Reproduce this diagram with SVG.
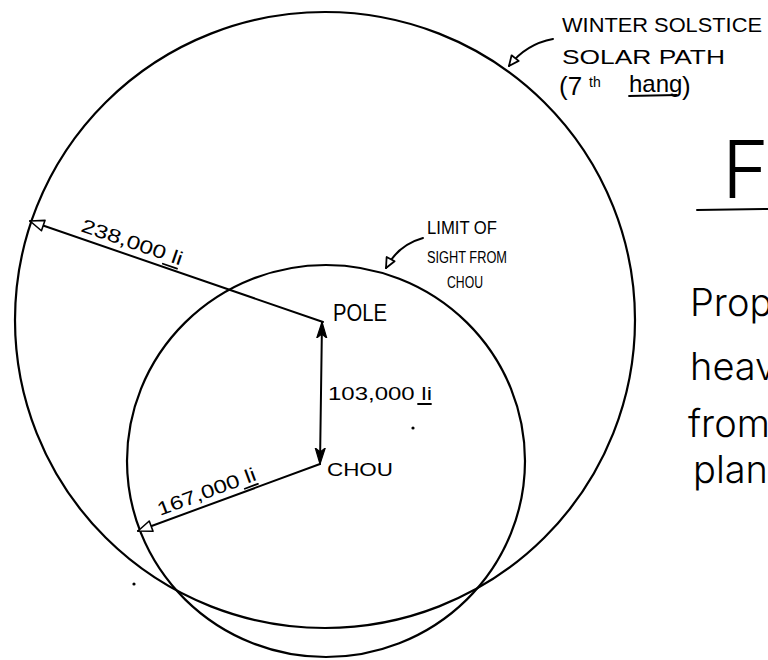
<svg xmlns="http://www.w3.org/2000/svg" width="768" height="660" viewBox="0 0 768 660">
<style>
.cir{fill:none;stroke:#000;stroke-width:2.2}
.ln{fill:none;stroke:#000;stroke-width:2;stroke-linecap:round}
.ul{fill:none;stroke:#000;stroke-width:1.8;stroke-linecap:round}
.lbl{font-family:"Liberation Sans",Arial,sans-serif;fill:#000}
.hand{font-family:Inter,"Liberation Sans",Arial,sans-serif;font-weight:300;fill:#000}
</style>
<defs>
<marker id="open" viewBox="0 -7 18 14" refX="16" refY="0" markerWidth="18" markerHeight="14" markerUnits="userSpaceOnUse" orient="auto-start-reverse">
<path d="M16,0 L2,-5.5 L2,5.5 Z" fill="#fff" stroke="#000" stroke-width="1.6" stroke-linejoin="round"/>
</marker>
<marker id="opensm" viewBox="0 -6 14 12" refX="12" refY="0" markerWidth="14" markerHeight="12" markerUnits="userSpaceOnUse" orient="auto-start-reverse">
<path d="M12,0 L2,-4.5 L2,4.5 Z" fill="#fff" stroke="#000" stroke-width="1.8" stroke-linejoin="round"/>
</marker>
<marker id="narrow" viewBox="0 -6 18 12" refX="16" refY="0" markerWidth="18" markerHeight="12" markerUnits="userSpaceOnUse" orient="auto-start-reverse">
<path d="M16,0 L0,-5 L4,0 L0,5 Z" fill="#000" stroke="#000" stroke-width="1.2" stroke-linejoin="round"/>
</marker>
</defs>

<g id="solar-path">
<ellipse class="cir" cx="325" cy="320" rx="310" ry="308"/>
</g>
<g id="limit-of-sight">
<ellipse class="cir" cx="326" cy="461" rx="199" ry="196"/>
</g>

<g id="connectors">
<path class="ln" d="M323,322 L30,221" marker-end="url(#open)"/>
<path class="ln" d="M320,464 L138,531" marker-end="url(#open)"/>
<path class="ln" d="M322,322 L320,464" marker-start="url(#narrow)" marker-end="url(#narrow)"/>
<path class="ln" d="M553,39 Q526,44 509,66" marker-end="url(#opensm)"/>
<path class="ln" d="M423,238 Q398,245 386,268" stroke-width="2.6" marker-end="url(#opensm)"/>
</g>

<g id="label-238">
<g transform="translate(80,231) rotate(19)">
<text class="lbl" font-size="19" x="0" y="0" textLength="106" lengthAdjust="spacingAndGlyphs">238,000 li</text>
<path class="ul" d="M89,4 L104,4"/>
</g>
</g>
<g id="label-167">
<g transform="translate(160,516) rotate(-20.4)">
<text class="lbl" font-size="19" x="0" y="0" textLength="104" lengthAdjust="spacingAndGlyphs">167,000 li</text>
<path class="ul" d="M89,4 L103,4"/>
</g>
</g>
<g id="label-103">
<text class="lbl" font-size="19" x="328" y="400" textLength="104" lengthAdjust="spacingAndGlyphs">103,000 li</text>
<path class="ul" d="M418,404 L431,404"/>
</g>

<g id="pole">
<text class="lbl" font-size="23" x="333" y="321" textLength="54" lengthAdjust="spacingAndGlyphs">POLE</text>
</g>
<g id="chou">
<text class="lbl" font-size="19" x="327" y="476" textLength="66" lengthAdjust="spacingAndGlyphs">CHOU</text>
</g>

<g id="winter-label">
<text class="lbl" font-size="20" x="562" y="32" textLength="200" lengthAdjust="spacingAndGlyphs">WINTER SOLSTICE</text>
<text class="lbl" font-size="20" x="562" y="64" textLength="163" lengthAdjust="spacingAndGlyphs">SOLAR  PATH</text>
<text class="lbl" font-size="26" y="95"><tspan x="559">(7</tspan><tspan x="589" y="87" font-size="14">th</tspan><tspan x="629" y="92" font-size="24">hang</tspan><tspan x="682" y="95">)</tspan></text>
<path class="ul" d="M629,96 L677,95"/>
</g>

<g id="limit-label">
<text class="lbl" font-size="18" x="427" y="234" textLength="70" lengthAdjust="spacingAndGlyphs">LIMIT OF</text>
<text class="lbl" font-size="16" x="427" y="263" textLength="80" lengthAdjust="spacingAndGlyphs">SIGHT FROM</text>
<text class="lbl" font-size="16" x="447" y="288" textLength="36" lengthAdjust="spacingAndGlyphs">CHOU</text>
</g>

<g id="title">
<text class="hand" font-size="80" font-weight="200" x="722" y="198">Fi</text>
<path class="ln" d="M697,210 L768,209"/>
</g>

<g id="caption">
<text class="hand" font-size="38" x="690" y="316">Prop</text>
<text class="hand" font-size="38" x="690" y="380">heav</text>
<text class="hand" font-size="38" x="688" y="437">from</text>
<text class="hand" font-size="38" x="693" y="483">plan</text>
</g>

<g id="dots">
<circle cx="413" cy="428" r="1.6" fill="#000"/>
<circle cx="134" cy="584" r="1.6" fill="#000"/>
</g>
</svg>
